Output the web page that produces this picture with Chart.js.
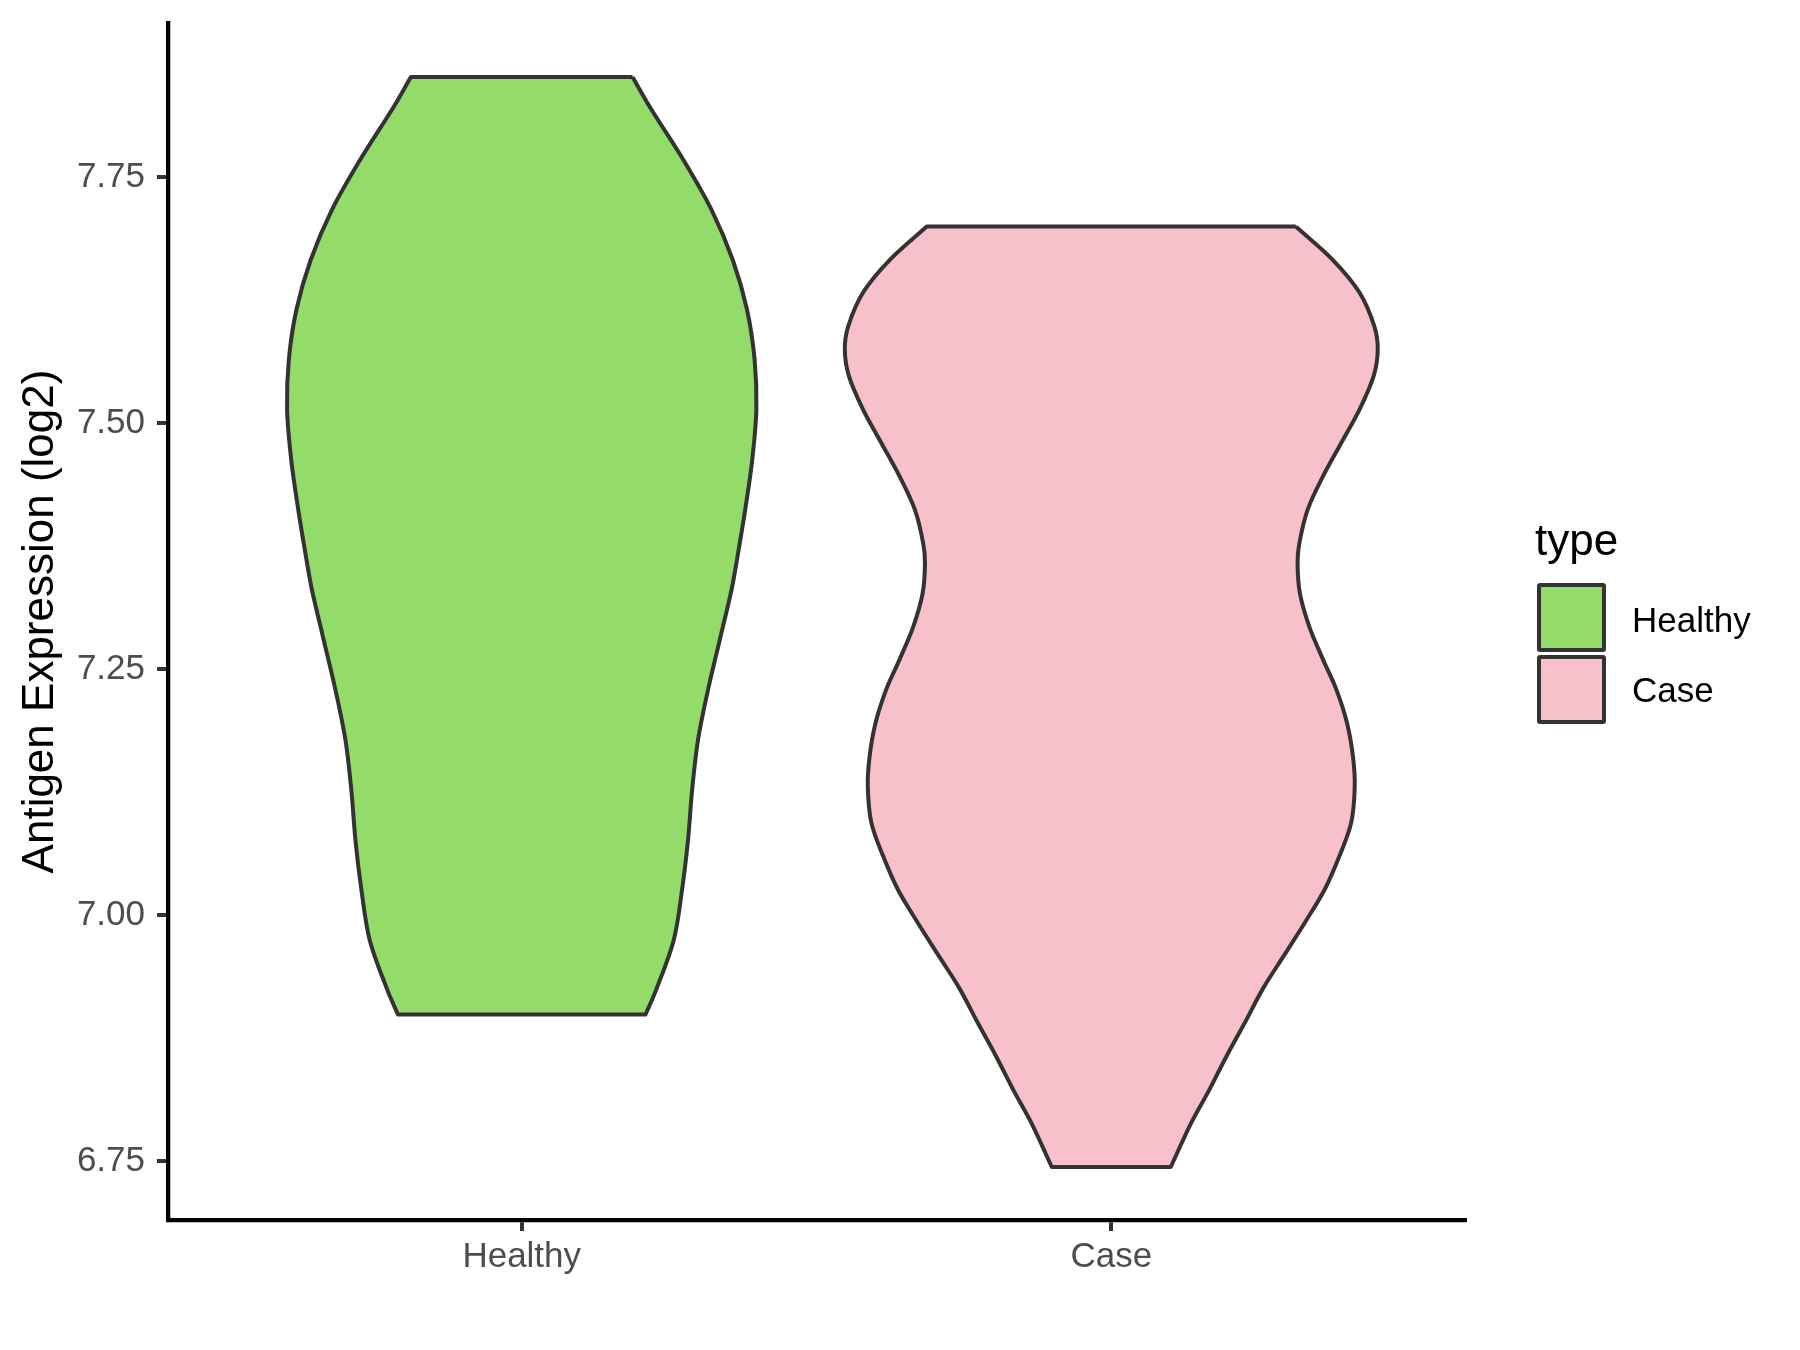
<!DOCTYPE html>
<html>
<head>
<meta charset="utf-8">
<script src="https://cdn.jsdelivr.net/npm/chart.js@4.4.0/dist/chart.umd.min.js"></script>
<style>
  html, body { margin: 0; padding: 0; background: #ffffff; }
  #wrap { position: relative; width: 1800px; height: 1350px; font-family: "Liberation Sans", Arial, sans-serif; }
  #c { position: absolute; left: 0; top: 0; }
  .lg { position: absolute; white-space: nowrap; color: #000; }
  .lg-title { font-size: 44px; line-height: 44px; }
  .lg-text { font-size: 35px; line-height: 35px; }
  .lg-box { position: absolute; box-sizing: border-box; border: 4px solid #333333; border-radius: 3px; }
</style>
</head>
<body>
<div id="wrap">
  <canvas id="c" width="1800" height="1350"></canvas>
  <div class="lg lg-title" style="left:1535px; top:518px;">type</div>
  <div id="lgBox0" class="lg-box" style="left:1537px; top:583px; width:69px; height:69px;"></div>
  <div id="lgTxt0" class="lg lg-text" style="left:1632px; top:602px;"></div>
  <div id="lgBox1" class="lg-box" style="left:1537px; top:655px; width:69px; height:69px;"></div>
  <div id="lgTxt1" class="lg lg-text" style="left:1632px; top:672px;"></div>
</div>
<script>
// ---- data ----
const categories = ['Healthy', 'Case'];
const seriesColors = ['#94DC6A', '#F7C0CB'];
const yTicks = [6.75, 7.00, 7.25, 7.50, 7.75];

// Healthy violin: expression levels (top -> bottom) and half-width of the density outline (x units)
const healthyY = [7.852, 7.819, 7.768, 7.717, 7.666, 7.616, 7.565, 7.514, 7.463, 7.412, 7.361, 7.331, 7.280, 7.229, 7.178, 7.127, 7.076, 7.026, 6.975, 6.924, 6.899];
const healthyHalfWidth = [0.188, 0.220, 0.274, 0.322, 0.358, 0.382, 0.395, 0.398, 0.391, 0.379, 0.365, 0.356, 0.336, 0.316, 0.299, 0.289, 0.282, 0.272, 0.258, 0.228, 0.210];

// Case violin
const caseY = [7.700, 7.666, 7.633, 7.599, 7.575, 7.548, 7.514, 7.480, 7.446, 7.412, 7.378, 7.358, 7.327, 7.293, 7.260, 7.229, 7.195, 7.161, 7.131, 7.094, 7.060, 7.026, 6.992, 6.958, 6.926, 6.890, 6.856, 6.822, 6.788, 6.744];
const caseHalfWidth = [0.313, 0.376, 0.421, 0.446, 0.452, 0.445, 0.421, 0.390, 0.359, 0.333, 0.319, 0.316, 0.320, 0.336, 0.359, 0.382, 0.400, 0.410, 0.413, 0.407, 0.387, 0.362, 0.328, 0.292, 0.258, 0.226, 0.195, 0.166, 0.135, 0.101];

// ---- build closed outlines (right side down, flat bottom, left side up, flat top) ----
function violinPoints(center, ys, hws) {
  const n = ys.length;
  const pts = [];
  for (let i = 0; i < n; i++) pts.push({ x: center + hws[i], y: ys[i] });
  pts.push({ x: center + hws[n - 1], y: ys[n - 1] });
  for (let i = n - 1; i >= 0; i--) {
    pts.push({ x: center - hws[i], y: ys[i] });
    if (i === n - 1 || i === 0) pts.push({ x: center - hws[i], y: ys[i] });
  }
  pts.push({ x: center + hws[0], y: ys[0] });
  return pts;
}

const violins = [
  { label: categories[0], pts: violinPoints(1, healthyY, healthyHalfWidth), color: seriesColors[0] },
  { label: categories[1], pts: violinPoints(2, caseY, caseHalfWidth), color: seriesColors[1] }
];

// legend
for (let i = 0; i < categories.length; i++) {
  document.getElementById('lgBox' + i).style.background = seriesColors[i];
  document.getElementById('lgTxt' + i).textContent = categories[i];
}

const FONT = '"Liberation Sans", Arial, sans-serif';

new Chart(document.getElementById('c'), {
  type: 'line',
  data: {
    datasets: violins.map(v => ({
      label: v.label,
      data: v.pts,
      backgroundColor: v.color,
      borderColor: '#333333',
      borderWidth: 4,
      borderJoinStyle: 'round',
      fill: 'shape',
      tension: 0.33,
      pointRadius: 0,
      pointHoverRadius: 0
    }))
  },
  options: {
    responsive: false,
    devicePixelRatio: 1,
    animation: false,
    events: [],
    layout: { padding: { left: 0, right: 335, top: 23, bottom: 0 } },
    plugins: { legend: { display: false }, tooltip: { enabled: false } },
    scales: {
      x: {
        type: 'linear',
        min: 0.4,
        max: 2.6,
        bounds: 'data',
        afterBuildTicks: s => { s.ticks = categories.map((c, i) => ({ value: i + 1 })); },
        afterFit: s => { s.height = 130; s.paddingLeft = 0; s.paddingRight = 0; },
        ticks: {
          callback: (v, i) => categories[i],
          font: { family: FONT, size: 35 },
          color: '#4D4D4D',
          padding: 5,
          maxRotation: 0,
          autoSkip: false
        },
        grid: { drawOnChartArea: false, drawTicks: true, tickLength: 11, tickColor: '#333333', tickWidth: 4, lineWidth: 4 },
        border: { display: true, color: '#000000', width: 4.3 }
      },
      y: {
        type: 'linear',
        min: 6.69,
        max: 7.907,
        bounds: 'data',
        afterBuildTicks: s => { s.ticks = yTicks.map(v => ({ value: v })); },
        afterFit: s => { s.width = 168; s.paddingTop = 0; s.paddingBottom = 0; },
        ticks: {
          callback: v => Number(v).toFixed(2),
          font: { family: FONT, size: 35 },
          color: '#4D4D4D',
          padding: 12,
          autoSkip: false
        },
        title: {
          display: true,
          text: 'Antigen Expression (log2)',
          font: { family: FONT, size: 44 },
          color: '#000000',
          padding: { top: 14, bottom: 0 }
        },
        grid: { drawOnChartArea: false, drawTicks: true, tickLength: 11, tickColor: '#333333', tickWidth: 4, lineWidth: 4 },
        border: { display: true, color: '#000000', width: 4.3 }
      }
    }
  }
});
</script>
</body>
</html>
